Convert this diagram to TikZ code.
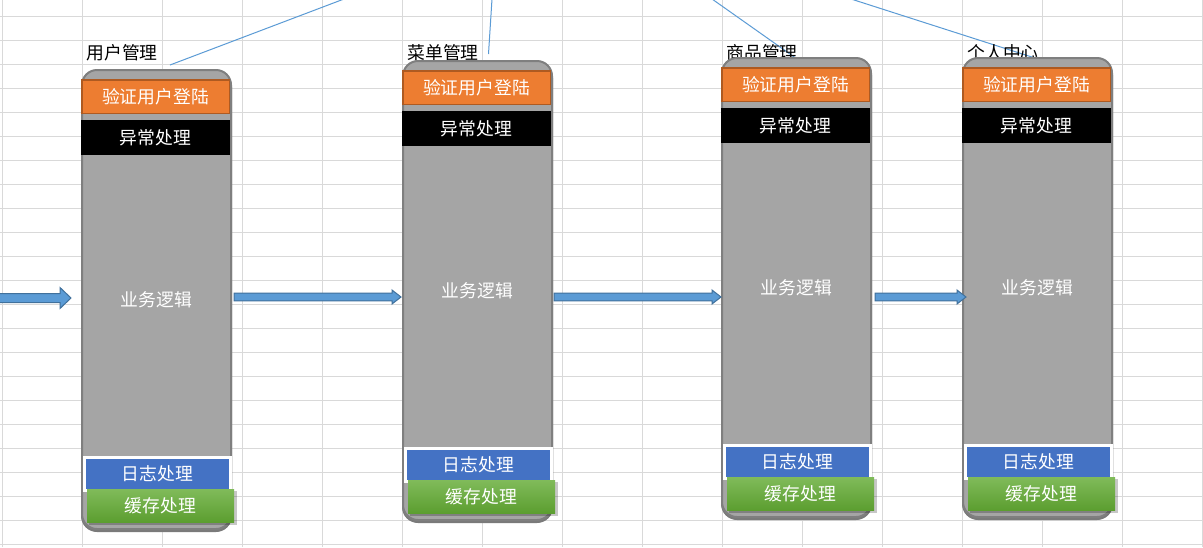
\documentclass[tikz,border=0pt]{standalone}
\usepackage{fontspec}
\setmainfont{Noto Sans CJK SC}
\usetikzlibrary{arrows.meta,calc}
\definecolor{gridc}{HTML}{D9D9D9}
\definecolor{bodyc}{HTML}{A5A5A5}
\definecolor{bodyb}{HTML}{7F7F7F}
\definecolor{shadowc}{HTML}{7A7A7A}
\definecolor{orangec}{HTML}{ED7D31}
\definecolor{oranged}{HTML}{AE5A21}
\definecolor{bluec}{HTML}{4472C4}
\definecolor{greent}{HTML}{80BB5A}
\definecolor{greenb}{HTML}{5C9E30}
\definecolor{arrowc}{HTML}{5B9BD5}
\definecolor{arrowd}{HTML}{41719C}
\definecolor{linkc}{HTML}{5B9BD5}
\newcommand\lblfont{\fontsize{17.8}{18}\selectfont}
\tikzset{
  body/.style={rectangle, rounded corners=15pt, fill=bodyc, draw=bodyb, line width=2pt,
    outer sep=0pt, inner sep=0pt, minimum width=149pt, minimum height=459pt, text=white, font=\lblfont},
  authbox/.style={rectangle, fill=orangec, draw=oranged, line width=1.5pt, outer sep=0pt, inner sep=0pt,
    minimum width=147.5pt, minimum height=33.5pt, text=white, font=\lblfont},
  errbox/.style={rectangle, fill=black, outer sep=0pt, inner sep=0pt,
    minimum width=149pt, minimum height=35pt, text=white, font=\lblfont},
  logbox/.style={rectangle, fill=bluec, draw=white, line width=3pt, outer sep=0pt, inner sep=0pt,
    minimum width=146pt, minimum height=33pt, text=white, font=\lblfont},
  cachebox/.style={rectangle, top color=greent, bottom color=greenb, draw=none, outer sep=0pt, inner sep=0pt,
    minimum width=147pt, minimum height=33pt, text=white, font=\lblfont},
  titlelbl/.style={inner sep=0pt, text=black, font=\lblfont},
  link/.style={draw=linkc, line width=1pt},
  barrow/.style={fill=arrowc, draw=arrowd, line width=1pt, line join=miter},
}
\newcommand\modcol[4]{%
  \node[titlelbl] (#1t) at ({#2+40},53) {#4};
  \fill[shadowc, rounded corners=16pt] ({#2-1},{#3+1}) rectangle ({#2+150},{#3+462});
  \node[body] (#1) at ({#2+74.5},{#3+229.5}) {业务逻辑};
  \node[authbox] (#1a) at ({#2+73.5},{#3+26.5}) {验证用户登陆};
  \node[errbox] (#1e) at ({#2+73.5},{#3+67.5}) {异常处理};
  \node[logbox] (#1l) at ({#2+75.5},{#3+404}) {日志处理};
  \fill[black, opacity=0.22] ({#2+7},{#3+421}) rectangle ({#2+155},{#3+455});
  \node[cachebox] (#1c) at ({#2+78.5},{#3+435.5}) {缓存处理};
}
% #1 start, #2 end, #3 half shaft, #4 half head, #5 head length
\newcommand\blockarr[5]{%
  \draw[barrow] let \p1=(#1), \p2=(#2) in
    (\x1,\y1+#3) -- (\x2-#5,\y1+#3) -- (\x2-#5,\y1+#4) -- (\x2,\y1)
    -- (\x2-#5,\y1-#4) -- (\x2-#5,\y1-#3) -- (\x1,\y1-#3) -- cycle;
}
\begin{document}
\begin{tikzpicture}[x=1pt,y=-1pt]
\useasboundingbox (0,0) rectangle (1203,547);
\clip (0,0) rectangle (1203,547);
\fill[white] (0,0) rectangle (1203,547);
% spreadsheet grid
\foreach \k in {0,...,15} \draw[gridc, line width=1pt] ({2.5+80*\k},0) -- ({2.5+80*\k},547);
\foreach \k in {0,...,22} \draw[gridc, line width=1pt] (0,{16+24*\k}) -- (1203,{16+24*\k});
% connectors from above
\coordinate (s1) at (344,-1);  \coordinate (e1) at (170,65);
\coordinate (s2) at (492,-1);  \coordinate (e2) at (488.5,54);
\coordinate (s3) at (712,-1);  \coordinate (e3) at (797,59);
\coordinate (s4) at (851,-1);  \coordinate (e4) at (1038,59);
\draw[link] (s1) -- (e1);
\draw[link] (s2) -- (e2);
\draw[link] (s3) -- (e3);
\draw[link] (s4) -- (e4);
% columns
\modcol{c1}{82}{70}{用户管理}
\modcol{c2}{403}{61}{菜单管理}
\modcol{c3}{722}{58}{商品管理}
\modcol{c4}{963}{58}{个人中心}
% block arrows
\coordinate (a1s) at (-3,298);
\coordinate (a2s) at (234,297);
\coordinate (a3s) at (554,297);
\coordinate (a4s) at (875,297);
\blockarr{a1s}{[xshift=-11pt]c1.west |- a1s}{4.5pt}{10.5pt}{11pt}
\blockarr{a2s}{[xshift=-2pt]c2.west |- a2s}{3.8pt}{7pt}{9pt}
\blockarr{a3s}{[xshift=-1pt]c3.west |- a3s}{3.8pt}{7pt}{9pt}
\blockarr{a4s}{[xshift=3pt]c4.west |- a4s}{3.8pt}{7pt}{9pt}
\end{tikzpicture}
\end{document}
